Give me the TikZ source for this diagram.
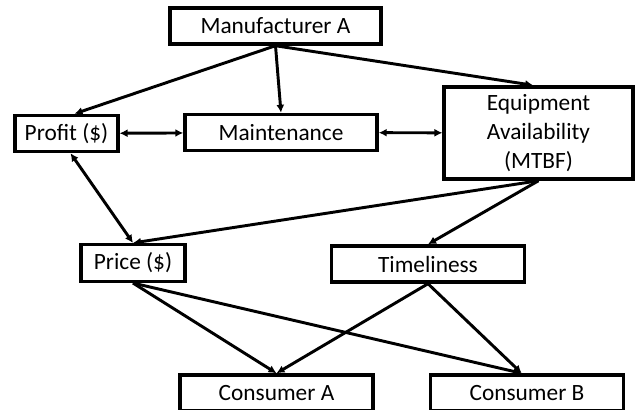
\documentclass[tikz,border=0pt]{standalone}
\usepackage{fontspec}
\setmainfont{Carlito}
\usetikzlibrary{arrows.meta,positioning,calc}
\tikzset{
  box/.style={draw=black, line width=2.6pt, fill=white, inner sep=2pt,
    minimum height=27pt, font=\fontsize{17.5}{19}\selectfont, align=center},
  link/.style={line width=2.2pt, -{Latex[length=6pt,width=6pt]}},
  both/.style={line width=2.2pt, {Latex[length=6pt,width=6pt]}-{Latex[length=6pt,width=6pt]}},
}

\begin{document}
\begin{tikzpicture}[x=0.75pt,y=-0.75pt]
    \clip (0,0) rectangle (636,410);
    \fill[white] (0,0) rectangle (636,410);
    % nodes
    \node[box, minimum width=158pt] (manuf) at (275.5,26) {Manufacturer A};
    \node[box, minimum width=77pt] (profit) at (66.5,133.5) {Profit (\$)};
    \node[box, minimum width=144pt] (maint) at (281,132.5) {Maintenance};
    \node[box, minimum width=141.5pt, minimum height=69pt, font=\fontsize{17.5}{21.75}\selectfont] (equip) at (538.5,133) {Equipment\\Availability\\(MTBF)};
    \node[box, minimum width=78pt, minimum height=27.5pt] (price) at (133,263) {Price (\$)};
    \node[box, minimum width=145pt] (timely) at (428,264) {Timeliness};
    \node[box, minimum width=144.5pt] (consA) at (276.5,393) {Consumer A};
    \node[box, minimum width=145pt] (consB) at (527,393) {Consumer B};
    % connectors
    \draw[link] (manuf.south) -- ([xshift=6pt]profit.north);
    \draw[link] (manuf.south) -- (maint.north);
    \draw[link] (manuf.south) -- ([xshift=-4pt]equip.north);
    \draw[both] (profit) -- (maint);
    \draw[both] (maint) -- (equip);
    \draw[both] ([xshift=3pt]profit.south) -- (price.north);
    \draw[link] (equip.south) -- (price.north);
    \draw[link] (equip.south) -- (timely.north);
    \draw[link] (price.south) -- (consA.north);
    \draw[link] (price.south) -- ([xshift=-4pt]consB.north);
    \draw[link] (timely.south) -- (consA.north);
    \draw[link] (timely.south) -- ([xshift=-4pt]consB.north);
\end{tikzpicture}
\end{document}
